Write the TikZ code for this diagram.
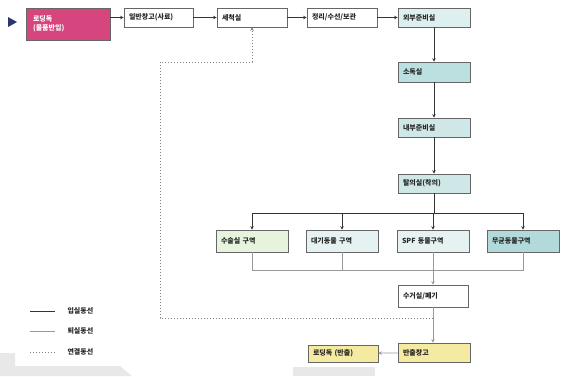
\documentclass[tikz,border=0pt]{standalone}
\usepackage{fontspec}
\setmainfont{Noto Sans CJK KR}
\usetikzlibrary{arrows.meta}
\definecolor{mag}{HTML}{D6457E}
\definecolor{cyA}{HTML}{DDEFEF}
\definecolor{cyB}{HTML}{BCDFDF}
\definecolor{cyC}{HTML}{CFE7E7}
\definecolor{grn}{HTML}{E6F4DE}
\definecolor{cyD}{HTML}{E6F2F2}
\definecolor{cyE}{HTML}{B3DADA}
\definecolor{yel}{HTML}{F4EAA2}
\definecolor{navy}{HTML}{2C3570}
\definecolor{bgg}{HTML}{E8E8E8}
\tikzset{
  room/.style={draw=black!60, line width=0.7pt, fill=white, minimum width=#1, text width=#1-10pt, minimum height=19pt, inner xsep=5pt, inner ysep=1pt, align=left, font=\fontsize{7}{8.5}\selectfont\bfseries, text=black!85, anchor=center},
  room/.default=70pt,
  inl/.style={draw=black!80, line width=0.7pt},
  outl/.style={draw=black!40, line width=0.7pt},
  conl/.style={draw=black!50, line width=1pt, dotted},
  arr/.style={-{Stealth[length=3.5pt,width=3.5pt]}},
  legtxt/.style={font=\fontsize{7}{8}\selectfont\bfseries, anchor=west, text=black!85}
}
\begin{document}
\begin{tikzpicture}[x=1pt,y=-1pt]
\useasboundingbox (0,0) rectangle (565,376);
% background artifacts
\fill[bgg] (0,353) -- (15,353) -- (15,366) -- (120,366) -- (132,376) -- (0,376) -- cycle;
\fill[bgg] (293,367) rectangle (375,376);
% marker
\fill[navy] (8,17) -- (17,22) -- (8,27) -- cycle;
% top row
\node[room=80pt, fill=mag, text=white, minimum height=32pt, inner xsep=7pt] (dock) at (68,24) {로딩독\\(물품반입)};
\node[room=69pt] (store) at (158.5,17.5) {일반창고(사료)};
\node[room] (wash) at (252,17.5) {세척실};
\node[room] (repair) at (342,17.5) {정리/수선/보관};
\node[room=72pt, fill=cyA] (outprep) at (434,17.5) {외부준비실};
% column
\node[room=72pt, fill=cyB, minimum height=20pt] (disinf) at (434,72) {소독실};
\node[room=72pt, fill=cyC] (inprep) at (434,127.5) {내부준비실};
\node[room=72pt, fill=cyC] (dress) at (434,183.5) {탈의실(착의)};
% zones
\node[room=72pt, fill=grn, minimum height=22pt] (z1) at (252,241) {수술실 구역};
\node[room=72pt, fill=cyD, minimum height=22pt] (z2) at (342,241) {대기동물 구역};
\node[room=72pt, fill=cyD, minimum height=22pt] (z3) at (433,241) {SPF 동물구역};
\node[room=72pt, fill=cyE, minimum height=22pt] (z4) at (523,241) {무균동물구역};
% lower
\node[room=70pt, minimum height=22pt] (collect) at (433,296) {수거실/폐기};
\node[room=72pt, fill=yel] (outstore) at (434,352.5) {반출창고};
\node[room=70pt, fill=yel, minimum height=17pt] (outdock) at (343,353.5) {로딩독 (반출)};
% entry connectors
\draw[inl, arr] (dock.east |- store) -- (store);
\draw[inl, arr] (store) -- (wash);
\draw[inl, arr] (wash) -- (repair);
\draw[inl, arr] (repair) -- (outprep);
\draw[inl, arr] (outprep) -- (disinf);
\draw[inl, arr] (disinf) -- (inprep);
\draw[inl, arr] (inprep) -- (dress);
\coordinate (busT) at (434,213);
\draw[inl] (dress) -- (busT);
\draw[inl] (z1.north |- busT) -- (z4.north |- busT);
\foreach \z in {z1,z2,z3,z4} \draw[inl, arr] (\z.north |- busT) -- (\z.north);
% exit connectors
\coordinate (busB) at (434,270);
\draw[outl] (z1.south) -- (z1.south |- busB) -- (z4.south |- busB) -- (z4.south);
\draw[outl] (z2.south) -- (z2.south |- busB);
\draw[outl, arr] (z3.south) -- (collect.north);
\draw[outl, arr] (collect.south) -- (collect.south |- outstore.north);
\draw[outl, arr] (outstore) -- (outdock);
% connection (dotted) route
\coordinate (dj) at (433,318);
\coordinate (dl) at (160,318);
\coordinate (du) at (160,62);
\coordinate (dw) at (252,62);
\draw[conl, arr] (dj) -- (dl) -- (du) -- (dw) -- (wash.south);
% legend
\coordinate (l1a) at (30,311); \coordinate (l1b) at (55,311);
\coordinate (l2a) at (30,331); \coordinate (l2b) at (55,331);
\coordinate (l3a) at (30,352); \coordinate (l3b) at (55,352);
\draw[inl] (l1a) -- (l1b);
\draw[outl] (l2a) -- (l2b);
\draw[conl] (l3a) -- (l3b);
\node[legtxt] (t1) at (64,311) {입실동선};
\node[legtxt] (t2) at (64,331) {퇴실동선};
\node[legtxt] (t3) at (64,352) {연결동선};
\end{tikzpicture}
\end{document}
